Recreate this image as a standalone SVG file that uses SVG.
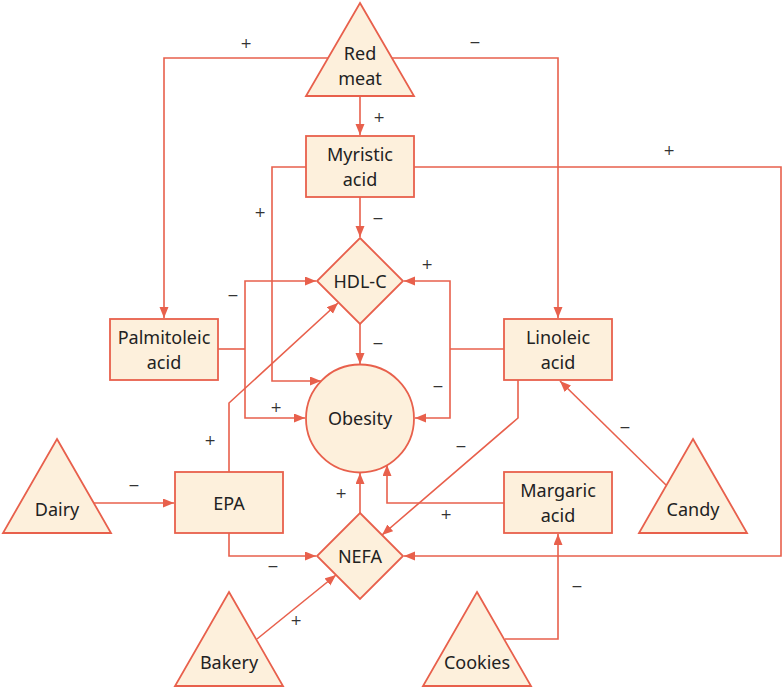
<svg xmlns="http://www.w3.org/2000/svg" width="783" height="688" viewBox="0 0 783 688">
<style>
.n{fill:#fdf0dc;stroke:#e8604c;stroke-width:1.8}
.t{font-family:"Noto Sans","Open Sans",sans-serif;font-size:18px;fill:#222;text-anchor:middle}
.s{font-family:"DejaVu Sans","Noto Sans",sans-serif;font-size:14px;fill:#333;text-anchor:middle}
.c{fill:none;stroke:#e8604c;stroke-width:1.6}
.a{marker-end:url(#ah)}
</style>
<defs>
<marker id="ah" markerUnits="userSpaceOnUse" markerWidth="12" markerHeight="10" refX="11" refY="4.5" orient="auto">
<path d="M0,0 L11,4.5 L0,9 z" fill="#e8604c"/>
</marker>
</defs>
<rect width="783" height="688" fill="#fff"/>
<g id="connectors">
<polyline class="c a" points="328,58 164,58 164,318"/>
<polyline class="c a" points="392,58 558,58 558,318"/>
<line class="c a" x1="360" y1="96" x2="360" y2="135"/>
<polyline class="c a" points="306,167 272,167 272,381 321,381"/>
<polyline class="c a" points="414,167 781,167 781,556 404,556"/>
<line class="c a" x1="360" y1="197" x2="360" y2="237"/>
<line class="c a" x1="360" y1="324" x2="360" y2="364"/>
<polyline class="c" points="218,349 245,349"/>
<polyline class="c a" points="245,349 245,281 316,281"/>
<polyline class="c a" points="245,349 245,418 305,418"/>
<polyline class="c" points="504,349 450,349"/>
<polyline class="c a" points="450,349 450,281 404,281"/>
<polyline class="c a" points="450,349 450,418 415,418"/>
<polyline class="c a" points="518,380 518,418 382,535"/>
<line class="c a" x1="666" y1="485" x2="560" y2="381"/>
<polyline class="c a" points="504,503 387,503 387,465"/>
<polyline class="c a" points="505,639 558,639 558,534"/>
<line class="c a" x1="360" y1="513" x2="360" y2="473"/>
<polyline class="c a" points="229,472 229,403 338,303"/>
<polyline class="c a" points="229,533 229,556 316,556"/>
<line class="c a" x1="94" y1="503" x2="174" y2="503"/>
<line class="c a" x1="257" y1="639" x2="336" y2="575"/>
</g>
<g id="labels">
<text class="s" x="246" y="48">+</text>
<text class="s" x="475" y="47">−</text>
<text class="s" x="379" y="122">+</text>
<text class="s" x="260" y="217">+</text>
<text class="s" x="669" y="155">+</text>
<text class="s" x="378" y="223">−</text>
<text class="s" x="233" y="300">−</text>
<text class="s" x="427" y="269">+</text>
<text class="s" x="378" y="348">−</text>
<text class="s" x="276" y="412">+</text>
<text class="s" x="438" y="391">−</text>
<text class="s" x="461" y="451">−</text>
<text class="s" x="625" y="432">−</text>
<text class="s" x="210" y="445">+</text>
<text class="s" x="134" y="490">−</text>
<text class="s" x="341" y="498">+</text>
<text class="s" x="446" y="519">+</text>
<text class="s" x="273" y="571">−</text>
<text class="s" x="296" y="625">+</text>
<text class="s" x="577" y="591">−</text>
</g>
<g id="redmeat"><polygon class="n" points="360,3 414,96 306,96"/><text class="t" x="360" y="60">Red</text><text class="t" x="360" y="85">meat</text></g>
<g id="myristic"><rect class="n" x="306" y="136" width="108" height="61"/><text class="t" x="360" y="161">Myristic</text><text class="t" x="360" y="186">acid</text></g>
<g id="hdlc"><polygon class="n" points="360,238 403,281 360,324 317,281"/><text class="t" x="360" y="288">HDL-C</text></g>
<g id="palmitoleic"><rect class="n" x="110" y="319" width="108" height="61"/><text class="t" x="164" y="344">Palmitoleic</text><text class="t" x="164" y="369">acid</text></g>
<g id="linoleic"><rect class="n" x="504" y="319" width="108" height="61"/><text class="t" x="558" y="344">Linoleic</text><text class="t" x="558" y="369">acid</text></g>
<g id="obesity"><circle class="n" cx="360" cy="418.5" r="54"/><text class="t" x="360" y="425">Obesity</text></g>
<g id="dairy"><polygon class="n" points="57,439 111,533 3,533"/><text class="t" x="57" y="516">Dairy</text></g>
<g id="epa"><rect class="n" x="175" y="472" width="108" height="61"/><text class="t" x="229" y="510">EPA</text></g>
<g id="margaric"><rect class="n" x="504" y="472" width="108" height="61"/><text class="t" x="558" y="497">Margaric</text><text class="t" x="558" y="522">acid</text></g>
<g id="candy"><polygon class="n" points="693,439 747,533 639,533"/><text class="t" x="693" y="516">Candy</text></g>
<g id="nefa"><polygon class="n" points="360,513 403,556 360,599 317,556"/><text class="t" x="360" y="563">NEFA</text></g>
<g id="bakery"><polygon class="n" points="229,592 283,686 175,686"/><text class="t" x="229" y="669">Bakery</text></g>
<g id="cookies"><polygon class="n" points="477,592 531,686 423,686"/><text class="t" x="477" y="669">Cookies</text></g>
</svg>
